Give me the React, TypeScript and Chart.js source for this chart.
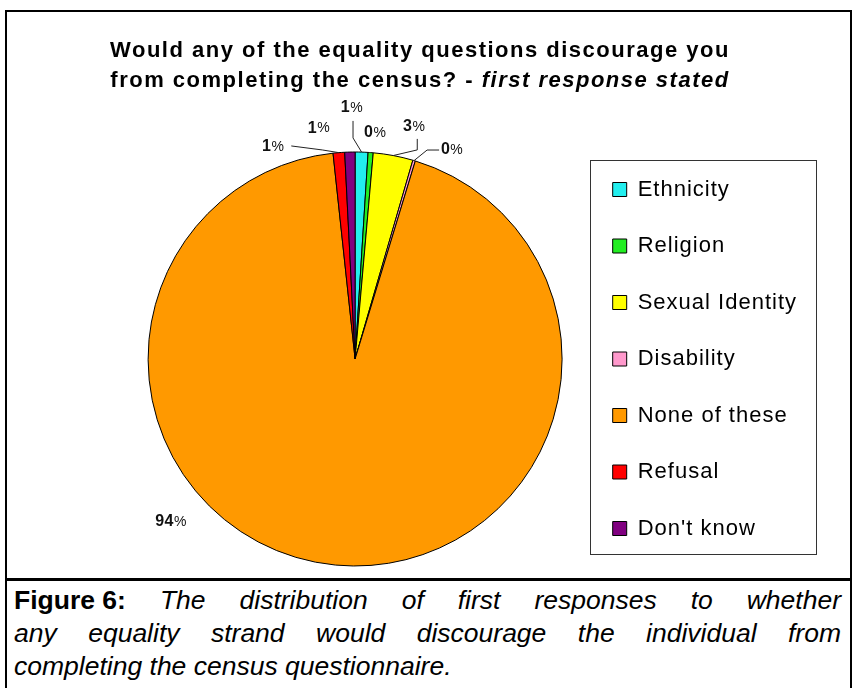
import React, { useEffect, useRef } from "react";
import { Chart, registerables } from "chart.js";

Chart.register(...registerables);

// Survey answers (share of first responses, %)
const categories = [
  "Ethnicity",
  "Religion",
  "Sexual Identity",
  "Disability",
  "None of these",
  "Refusal",
  "Don't know",
];
const shares = [1.0, 0.4, 3.1, 0.2, 93.6, 0.9, 0.8];
const sliceColors = ["#22EEEE", "#22EE22", "#FFFF00", "#FF99CC", "#FF9900", "#FF0000", "#800080"];

const titleLine1 = "Would any of the equality questions discourage you";
const titleLine2Plain = "from completing the census? - ";
const titleLine2Italic = "first response stated";

const captionLead = "Figure 6:";
const captionLines = [
  "The distribution of first responses to whether",
  "any equality strand would discourage the individual from",
  "completing the census questionnaire.",
];

// Where each percentage label sits: angle clockwise from 12 o'clock (deg)
// and distance from the centre as a multiple of the pie radius.
const labelAngles = [-0.7, 5.1, 14.3, 24.9, 228.5, -21.1, -8.9];
const labelDistances = [1.213, 1.096, 1.157, 1.113, 1.187, 1.098, 1.129];
// Leader lines: [startDx, startDy, elbowDx, elbowDy] measured from the label centre.
const leaderLines: (number[] | null)[] = [
  [1, 13, 1, 30],
  null,
  [3, 12, 3, 23],
  [-13, 0, -25, 0],
  null,
  [18, -1, 49, 3],
  null,
];

const FONT = "'Liberation Sans', Arial, sans-serif";

const textSpacing = {
  id: "textSpacing",
  beforeLayout(chart: any) {
    chart.ctx.letterSpacing = "1px";
  },
  beforeDraw(chart: any) {
    chart.ctx.letterSpacing = "1px";
  },
};

const sliceLabels = {
  id: "sliceLabels",
  afterDatasetsDraw(chart: any) {
    const ctx = chart.ctx as CanvasRenderingContext2D;
    const meta = chart.getDatasetMeta(0);
    const data = chart.data.datasets[0].data as number[];
    ctx.save();
    (ctx as any).letterSpacing = "0.5px";
    meta.data.forEach((arc: any, i: number) => {
      const { x, y, startAngle, endAngle, outerRadius } = arc.getProps(
        ["x", "y", "startAngle", "endAngle", "outerRadius"],
        true
      );
      const a = ((labelAngles[i] - 90) * Math.PI) / 180;
      const lx = x + Math.cos(a) * outerRadius * labelDistances[i];
      const ly = y + Math.sin(a) * outerRadius * labelDistances[i];

      const lead = leaderLines[i];
      if (lead) {
        const mid = (startAngle + endAngle) / 2;
        const ex = x + Math.cos(mid) * outerRadius;
        const ey = y + Math.sin(mid) * outerRadius;
        ctx.beginPath();
        ctx.moveTo(lx + lead[0], ly + lead[1]);
        ctx.lineTo(lx + lead[2], ly + lead[3]);
        ctx.lineTo(ex, ey);
        ctx.strokeStyle = "#222";
        ctx.lineWidth = 1;
        ctx.stroke();
      }

      const num = String(Math.round(data[i]));
      ctx.font = `bold 16px ${FONT}`;
      const w1 = ctx.measureText(num).width;
      ctx.font = `14px ${FONT}`;
      const w2 = ctx.measureText("%").width;
      const x0 = lx - (w1 + w2) / 2;
      ctx.textBaseline = "middle";
      ctx.textAlign = "left";
      ctx.fillStyle = "#111";
      ctx.font = `bold 16px ${FONT}`;
      ctx.fillText(num, x0, ly);
      ctx.font = `14px ${FONT}`;
      ctx.fillText("%", x0 + w1, ly);
    });
    ctx.restore();
  },
};

const figureTitle = {
  id: "figureTitle",
  afterDraw(chart: any) {
    const ctx = chart.ctx as CanvasRenderingContext2D;
    ctx.save();
    (ctx as any).letterSpacing = "1.5px";
    ctx.fillStyle = "#000";
    ctx.textBaseline = "middle";
    ctx.textAlign = "left";
    const cx = 413;
    const bold = `bold 22px ${FONT}`;
    const boldItalic = `italic bold 22px ${FONT}`;
    ctx.font = bold;
    const w1 = ctx.measureText(titleLine1).width;
    ctx.fillText(titleLine1, cx - w1 / 2, 39);
    const wa = ctx.measureText(titleLine2Plain).width;
    ctx.font = boldItalic;
    const wb = ctx.measureText(titleLine2Italic).width;
    const start = cx - (wa + wb) / 2;
    ctx.font = bold;
    ctx.fillText(titleLine2Plain, start, 69);
    ctx.font = boldItalic;
    ctx.fillText(titleLine2Italic, start + wa, 69);
    ctx.restore();
  },
};

const legendFrame = {
  id: "legendFrame",
  afterDraw(chart: any) {
    const hb = chart.legend?.legendHitBoxes;
    if (!hb || !hb.length) return;
    const ctx = chart.ctx as CanvasRenderingContext2D;
    const left = hb[0].left - 23;
    const right = Math.max(...hb.map((h: any) => h.left + h.width)) + 19;
    const top = hb[0].top - 19;
    const last = hb[hb.length - 1];
    const bottom = last.top + last.height + 14;
    ctx.save();
    ctx.strokeStyle = "#333";
    ctx.lineWidth = 1;
    ctx.strokeRect(Math.round(left) + 0.5, Math.round(top) + 0.5, Math.round(right - left), Math.round(bottom - top));
    ctx.restore();
  },
};

function PieFigure() {
  const ref = useRef<HTMLCanvasElement | null>(null);

  useEffect(() => {
    if (!ref.current) return;
    const chart = new Chart(ref.current, {
      type: "pie",
      data: {
        labels: categories,
        datasets: [
          {
            data: shares,
            backgroundColor: sliceColors,
            borderColor: "#000",
            borderWidth: 1,
            hoverOffset: 0,
          },
        ],
      },
      options: {
        animation: false,
        responsive: false,
        maintainAspectRatio: false,
        radius: 207,
        layout: { padding: { left: 125, right: 42, top: 128, bottom: 0 } },
        plugins: {
          title: { display: false },
          tooltip: { enabled: false },
          legend: {
            position: "right",
            labels: {
              boxWidth: 14,
              boxHeight: 14,
              padding: 34.5,
              color: "#000",
              font: { size: 22, family: FONT },
            },
          },
        },
      } as any,
      plugins: [textSpacing, sliceLabels, figureTitle, legendFrame],
    });
    return () => chart.destroy();
  }, []);

  return (
    <canvas
      ref={ref}
      width={842}
      height={566}
      style={{ position: "absolute", left: 7, top: 12, width: 842, height: 566 }}
    />
  );
}

export default function App() {
  const captionFont: React.CSSProperties = {
    fontFamily: FONT,
    fontSize: "26.5px",
    lineHeight: "33px",
    color: "#000",
  };
  const justified: React.CSSProperties = { textAlign: "justify", textAlignLast: "justify" as any };
  return (
    <div
      style={{
        position: "fixed",
        left: 0,
        top: 0,
        width: 854,
        height: 688,
        background: "#fff",
        overflow: "hidden",
      }}
    >
      <div
        style={{
          position: "absolute",
          left: 5,
          top: 10,
          width: 847,
          height: 720,
          boxSizing: "border-box",
          borderTop: "2px solid #000",
          borderLeft: "2px solid #000",
          borderRight: "2px solid #000",
        }}
      />
      <div style={{ position: "absolute", left: 5, top: 578, width: 847, height: 3, background: "#000" }} />
      <PieFigure />
      <div style={{ position: "absolute", left: 14, top: 583.5, width: 827, ...captionFont }}>
        <div style={justified}>
          <b style={{ display: "inline-block" }}>{captionLead}</b> <i>{captionLines[0]}</i>
        </div>
        <div style={justified}>
          <i>{captionLines[1]}</i>
        </div>
        <div>
          <i>{captionLines[2]}</i>
        </div>
      </div>
    </div>
  );
}
